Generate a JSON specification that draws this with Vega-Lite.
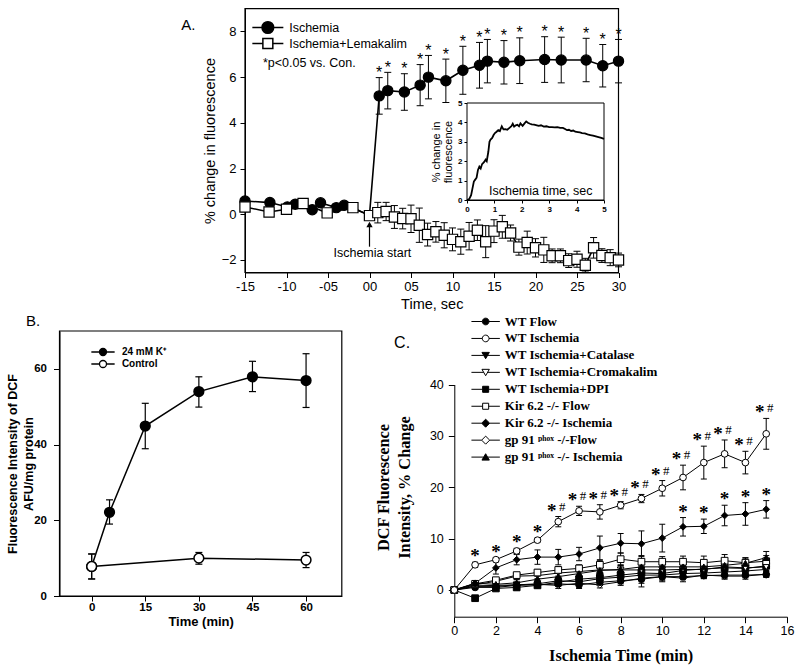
{
"$schema": "https://vega.github.io/schema/vega-lite/v6.json",
"width": 800, "height": 670, "padding": 0, "autosize": {"type": "none"},
"background": "white",
"config": {
  "view": {"stroke": null},
  "axis": {"grid": false, "domainColor": "black", "tickColor": "black", "labelColor": "black", "titleColor": "black", "labelFlush": false, "labelOverlap": false, "labelBound": false, "domainWidth": 1, "tickWidth": 1},
  "legend": {"labelColor": "black", "padding": 0}
},
"datasets": {
"a": [
{"s":"I","t":-15,"v":0.58},{"s":"I","t":-12,"v":0.51},{"s":"I","t":-9.9,"v":0.32},{"s":"I","t":-8.95,"v":0.44},{"s":"I","t":-6.9,"v":0.2},{"s":"I","t":-5.9,"v":0.5},{"s":"I","t":-4,"v":0.29},{"s":"I","t":-3.05,"v":0.39},{"s":"I","t":0,"v":-0.03},
{"s":"I","t":1.17,"v":5.18,"lo":4.38,"hi":5.98,"st":"*"},
{"s":"I","t":2.2,"v":5.41,"lo":4.61,"hi":6.21,"st":"*"},
{"s":"I","t":4.2,"v":5.35,"lo":4.55,"hi":6.15,"st":"*"},
{"s":"I","t":6.1,"v":5.65,"lo":4.75,"hi":6.55,"st":"*"},
{"s":"I","t":7.1,"v":6.0,"lo":5.05,"hi":6.95,"st":"*"},
{"s":"I","t":9.2,"v":5.84,"lo":4.89,"hi":6.79,"st":"*"},
{"s":"I","t":11.25,"v":6.3,"lo":5.25,"hi":7.35,"st":"*"},
{"s":"I","t":13.25,"v":6.52,"lo":5.52,"hi":7.52,"st":"*"},
{"s":"I","t":14.2,"v":6.7,"lo":5.75,"hi":7.65,"st":"*"},
{"s":"I","t":16.2,"v":6.65,"lo":5.7,"hi":7.6,"st":"*"},
{"s":"I","t":18.1,"v":6.72,"lo":5.72,"hi":7.72,"st":"*"},
{"s":"I","t":21.1,"v":6.77,"lo":5.77,"hi":7.77,"st":"*"},
{"s":"I","t":23.1,"v":6.75,"lo":5.75,"hi":7.75,"st":"*"},
{"s":"I","t":26.1,"v":6.75,"lo":5.8,"hi":7.7,"st":"*"},
{"s":"I","t":28.1,"v":6.5,"lo":5.57,"hi":7.43,"st":"*"},
{"s":"I","t":30,"v":6.7,"lo":5.75,"hi":7.65,"st":"*"},
{"s":"L","t":-15,"v":0.32},{"s":"L","t":-12.1,"v":0.1},{"s":"L","t":-10,"v":0.22},{"s":"L","t":-8,"v":0.47},{"s":"L","t":-5.1,"v":0.06},{"s":"L","t":-2,"v":0.29},{"s":"L","t":0,"v":-0.06},
{"s":"L","t":1,"v":0.07,"lo":-0.38,"hi":0.52},
{"s":"L","t":2,"v":0.12,"lo":-0.28,"hi":0.52},
{"s":"L","t":3,"v":-0.12,"lo":-0.62,"hi":0.38},
{"s":"L","t":4,"v":-0.19,"lo":-0.64,"hi":0.26},
{"s":"L","t":5,"v":-0.2,"lo":-0.8,"hi":0.4},
{"s":"L","t":6,"v":-0.48,"lo":-1.23,"hi":0.27},
{"s":"L","t":7,"v":-0.89,"lo":-1.39,"hi":-0.39},
{"s":"L","t":8,"v":-0.77,"lo":-1.22,"hi":-0.32},
{"s":"L","t":9,"v":-0.92,"lo":-1.47,"hi":-0.37},
{"s":"L","t":10,"v":-1.1,"lo":-1.6,"hi":-0.6},
{"s":"L","t":11,"v":-1.2,"lo":-1.75,"hi":-0.65},
{"s":"L","t":12,"v":-0.96,"lo":-1.56,"hi":-0.36},
{"s":"L","t":13,"v":-0.7,"lo":-1.15,"hi":-0.25},
{"s":"L","t":14,"v":-1.2,"lo":-1.9,"hi":-0.5},
{"s":"L","t":15,"v":-0.74,"lo":-1.24,"hi":-0.24},
{"s":"L","t":16,"v":-0.55,"lo":-1.05,"hi":-0.05},
{"s":"L","t":17,"v":-0.82,"lo":-1.17,"hi":-0.47},
{"s":"L","t":18,"v":-1.44,"lo":-1.79,"hi":-1.09},
{"s":"L","t":19,"v":-1.24,"lo":-1.74,"hi":-0.74},
{"s":"L","t":20,"v":-1.47,"lo":-1.87,"hi":-1.07},
{"s":"L","t":21,"v":-1.56,"lo":-2.11,"hi":-1.01},
{"s":"L","t":22,"v":-1.82,"lo":-2.12,"hi":-1.52},
{"s":"L","t":23,"v":-1.82,"lo":-2.12,"hi":-1.52},
{"s":"L","t":24,"v":-2.03,"lo":-2.33,"hi":-1.73},
{"s":"L","t":25,"v":-1.97,"lo":-2.32,"hi":-1.62},
{"s":"L","t":26,"v":-2.23,"lo":-2.53,"hi":-1.93},
{"s":"L","t":27,"v":-1.47,"lo":-1.92,"hi":-1.02},
{"s":"L","t":28,"v":-1.81,"lo":-2.11,"hi":-1.51},
{"s":"L","t":29,"v":-1.9,"lo":-2.25,"hi":-1.55},
{"s":"L","t":30,"v":-2.0,"lo":-2.3,"hi":-1.7}
],
"ain": [
{"t":0,"v":0},{"t":0.08,"v":0.05},{"t":0.15,"v":0.25},{"t":0.2,"v":0.6},{"t":0.25,"v":0.95},{"t":0.3,"v":1.05},{"t":0.35,"v":1.15},{"t":0.4,"v":1.55},{"t":0.45,"v":1.72},{"t":0.5,"v":1.62},{"t":0.55,"v":1.85},{"t":0.62,"v":1.95},{"t":0.68,"v":2.08},{"t":0.72,"v":2.0},{"t":0.78,"v":2.5},{"t":0.82,"v":3.0},{"t":0.86,"v":3.12},{"t":0.92,"v":3.2},{"t":0.97,"v":3.35},{"t":1.02,"v":3.45},{"t":1.08,"v":3.52},{"t":1.14,"v":3.6},{"t":1.2,"v":3.55},{"t":1.27,"v":3.8},{"t":1.33,"v":3.64},{"t":1.4,"v":3.65},{"t":1.47,"v":3.62},{"t":1.55,"v":3.72},{"t":1.62,"v":3.8},{"t":1.67,"v":3.93},{"t":1.72,"v":3.78},{"t":1.78,"v":3.85},{"t":1.84,"v":3.88},{"t":1.9,"v":3.8},{"t":1.95,"v":3.95},{"t":2.03,"v":3.82},{"t":2.1,"v":3.95},{"t":2.16,"v":4.05},{"t":2.22,"v":3.98},{"t":2.3,"v":3.93},{"t":2.36,"v":3.9},{"t":2.45,"v":3.88},{"t":2.55,"v":3.85},{"t":2.62,"v":3.82},{"t":2.7,"v":3.85},{"t":2.8,"v":3.78},{"t":2.9,"v":3.8},{"t":3.0,"v":3.76},{"t":3.1,"v":3.76},{"t":3.2,"v":3.74},{"t":3.3,"v":3.76},{"t":3.4,"v":3.72},{"t":3.5,"v":3.72},{"t":3.58,"v":3.66},{"t":3.65,"v":3.6},{"t":3.72,"v":3.62},{"t":3.8,"v":3.56},{"t":3.88,"v":3.58},{"t":3.95,"v":3.52},{"t":4.05,"v":3.5},{"t":4.12,"v":3.48},{"t":4.2,"v":3.45},{"t":4.3,"v":3.43},{"t":4.4,"v":3.38},{"t":4.5,"v":3.35},{"t":4.6,"v":3.32},{"t":4.7,"v":3.28},{"t":4.8,"v":3.24},{"t":4.9,"v":3.2},{"t":5.0,"v":3.15}
],
"b": [
{"s":"K","t":0,"v":7.8,"lo":4.5,"hi":11.1},
{"s":"K","t":5,"v":22.1,"lo":19,"hi":25.4},
{"s":"K","t":15,"v":44.9,"lo":38.9,"hi":50.9},
{"s":"K","t":30,"v":54,"lo":49.9,"hi":57.9},
{"s":"K","t":45,"v":57.9,"lo":54,"hi":62},
{"s":"K","t":60,"v":56.9,"lo":49.8,"hi":64},
{"s":"C","t":0,"v":7.8,"lo":4.5,"hi":11.1},
{"s":"C","t":30,"v":10,"lo":8.4,"hi":11.5},
{"s":"C","t":60,"v":9.5,"lo":7.5,"hi":11.5}
],
"c": [
{"s":"GF","t":0,"v":0},{"s":"GF","t":1,"v":0.8,"lo":0.4,"hi":1.2},{"s":"GF","t":2,"v":0.9,"lo":0.4,"hi":1.4},{"s":"GF","t":3,"v":1.0,"lo":0.5,"hi":1.5},{"s":"GF","t":4,"v":1.1,"lo":0.6,"hi":1.6},{"s":"GF","t":5,"v":0.9,"lo":0.3,"hi":1.5},{"s":"GF","t":6,"v":1.3,"lo":0.3,"hi":2.3},{"s":"GF","t":7,"v":1.0,"lo":0.4,"hi":1.6},{"s":"GF","t":8,"v":1.6,"lo":0.9,"hi":2.3},{"s":"GF","t":9,"v":2.3,"lo":0.6,"hi":4.0},{"s":"GF","t":10,"v":2.6,"lo":1.6,"hi":3.6},{"s":"GF","t":11,"v":2.3,"lo":1.6,"hi":3.0},{"s":"GF","t":12,"v":2.9,"lo":2.3,"hi":3.5},{"s":"GF","t":13,"v":2.7,"lo":2.1,"hi":3.3},{"s":"GF","t":14,"v":2.7,"lo":2.1,"hi":3.3},{"s":"GF","t":15,"v":3.1,"lo":2.5,"hi":3.7},
{"s":"WF","t":0,"v":0},{"s":"WF","t":1,"v":0.5,"lo":0.1,"hi":0.9},{"s":"WF","t":2,"v":0.5,"lo":0.1,"hi":0.9},{"s":"WF","t":3,"v":0.9,"lo":0.4,"hi":1.4},{"s":"WF","t":4,"v":1.0,"lo":0.5,"hi":1.5},{"s":"WF","t":5,"v":1.2,"lo":0.7,"hi":1.7},{"s":"WF","t":6,"v":1.0,"lo":0.4,"hi":1.6},{"s":"WF","t":7,"v":1.5,"lo":0.9,"hi":2.1},{"s":"WF","t":8,"v":1.8,"lo":1.2,"hi":2.4},{"s":"WF","t":9,"v":2.1,"lo":1.3,"hi":2.9},{"s":"WF","t":10,"v":2.6,"lo":1.8,"hi":3.4},{"s":"WF","t":11,"v":2.6,"lo":2.0,"hi":3.2},{"s":"WF","t":12,"v":2.8,"lo":2.2,"hi":3.4},{"s":"WF","t":13,"v":2.9,"lo":2.3,"hi":3.5},{"s":"WF","t":14,"v":2.9,"lo":2.4,"hi":3.4},{"s":"WF","t":15,"v":3.0,"lo":2.5,"hi":3.5},
{"s":"WC","t":0,"v":0},{"s":"WC","t":1,"v":0.7,"lo":0.3,"hi":1.1},{"s":"WC","t":2,"v":0.7,"lo":0.2,"hi":1.2},{"s":"WC","t":3,"v":1.0,"lo":0.5,"hi":1.5},{"s":"WC","t":4,"v":1.2,"lo":0.7,"hi":1.7},{"s":"WC","t":5,"v":1.8,"lo":1.2,"hi":2.4},{"s":"WC","t":6,"v":1.6,"lo":1.0,"hi":2.2},{"s":"WC","t":7,"v":2.2,"lo":1.5,"hi":2.9},{"s":"WC","t":8,"v":2.5,"lo":1.8,"hi":3.2},{"s":"WC","t":9,"v":2.9,"lo":2.0,"hi":3.8},{"s":"WC","t":10,"v":2.9,"lo":2.1,"hi":3.7},{"s":"WC","t":11,"v":3.2,"lo":2.4,"hi":4.0},{"s":"WC","t":12,"v":3.3,"lo":2.6,"hi":4.0},{"s":"WC","t":13,"v":3.5,"lo":2.8,"hi":4.2},{"s":"WC","t":14,"v":3.7,"lo":3.0,"hi":4.4},{"s":"WC","t":15,"v":4.0,"lo":3.2,"hi":4.8},
{"s":"WD","t":0,"v":0},{"s":"WD","t":1,"v":-1.6,"lo":-2.0,"hi":-1.2},{"s":"WD","t":2,"v":0.3,"lo":-0.1,"hi":0.7},{"s":"WD","t":3,"v":0.5,"lo":0.0,"hi":1.0},{"s":"WD","t":4,"v":0.9,"lo":0.4,"hi":1.4},{"s":"WD","t":5,"v":1.5,"lo":0.9,"hi":2.1},{"s":"WD","t":6,"v":2.1,"lo":1.5,"hi":2.7},{"s":"WD","t":7,"v":2.4,"lo":1.7,"hi":3.1},{"s":"WD","t":8,"v":2.9,"lo":2.2,"hi":3.6},{"s":"WD","t":9,"v":3.3,"lo":2.5,"hi":4.1},{"s":"WD","t":10,"v":3.2,"lo":2.4,"hi":4.0},{"s":"WD","t":11,"v":3.8,"lo":3.0,"hi":4.6},{"s":"WD","t":12,"v":4.1,"lo":3.3,"hi":4.9},{"s":"WD","t":13,"v":4.3,"lo":3.5,"hi":5.1},{"s":"WD","t":14,"v":4.2,"lo":3.3,"hi":5.1},{"s":"WD","t":15,"v":4.7,"lo":3.8,"hi":5.6},
{"s":"WK","t":0,"v":0},{"s":"WK","t":1,"v":1.0,"lo":0.6,"hi":1.4},{"s":"WK","t":2,"v":1.7,"lo":1.2,"hi":2.2},{"s":"WK","t":3,"v":2.7,"lo":2.1,"hi":3.3},{"s":"WK","t":4,"v":2.8,"lo":2.2,"hi":3.4},{"s":"WK","t":5,"v":3.3,"lo":2.7,"hi":3.9},{"s":"WK","t":6,"v":3.6,"lo":2.9,"hi":4.3},{"s":"WK","t":7,"v":3.9,"lo":3.2,"hi":4.6},{"s":"WK","t":8,"v":3.9,"lo":3.1,"hi":4.7},{"s":"WK","t":9,"v":3.9,"lo":3.1,"hi":4.7},{"s":"WK","t":10,"v":3.9,"lo":3.1,"hi":4.7},{"s":"WK","t":11,"v":4.0,"lo":3.2,"hi":4.8},{"s":"WK","t":12,"v":4.0,"lo":3.2,"hi":4.8},{"s":"WK","t":13,"v":4.5,"lo":3.6,"hi":5.4},{"s":"WK","t":14,"v":4.3,"lo":3.4,"hi":5.2},{"s":"WK","t":15,"v":4.5,"lo":3.6,"hi":5.4},
{"s":"KF","t":0,"v":0},{"s":"KF","t":1,"v":1.2,"lo":0.8,"hi":1.6},{"s":"KF","t":2,"v":1.9,"lo":1.4,"hi":2.4},{"s":"KF","t":3,"v":2.9,"lo":2.4,"hi":3.4},{"s":"KF","t":4,"v":3.4,"lo":2.8,"hi":4.0},{"s":"KF","t":5,"v":3.9,"lo":3.3,"hi":4.5},{"s":"KF","t":6,"v":4.2,"lo":3.5,"hi":4.9},{"s":"KF","t":7,"v":4.9,"lo":4.1,"hi":5.7},{"s":"KF","t":8,"v":6.0,"lo":4.8,"hi":7.2},{"s":"KF","t":9,"v":5.5,"lo":4.3,"hi":6.7},{"s":"KF","t":10,"v":5.5,"lo":4.5,"hi":6.5},{"s":"KF","t":11,"v":5.5,"lo":4.4,"hi":6.6},{"s":"KF","t":12,"v":5.3,"lo":4.0,"hi":6.6},{"s":"KF","t":13,"v":5.7,"lo":4.5,"hi":6.9},{"s":"KF","t":14,"v":5.3,"lo":4.3,"hi":6.3},{"s":"KF","t":15,"v":5.6,"lo":4.5,"hi":6.7},
{"s":"GI","t":0,"v":0},{"s":"GI","t":1,"v":1.3,"lo":0.8,"hi":1.8},{"s":"GI","t":2,"v":1.1,"lo":0.6,"hi":1.6},{"s":"GI","t":3,"v":1.4,"lo":0.8,"hi":2.0},{"s":"GI","t":4,"v":2.1,"lo":1.5,"hi":2.7},{"s":"GI","t":5,"v":2.6,"lo":1.9,"hi":3.3},{"s":"GI","t":6,"v":3.2,"lo":2.4,"hi":4.0},{"s":"GI","t":7,"v":3.8,"lo":2.9,"hi":4.7},{"s":"GI","t":8,"v":4.0,"lo":3.1,"hi":4.9},{"s":"GI","t":9,"v":4.5,"lo":3.5,"hi":5.5},{"s":"GI","t":10,"v":4.5,"lo":3.5,"hi":5.5},{"s":"GI","t":11,"v":4.5,"lo":3.5,"hi":5.5},{"s":"GI","t":12,"v":4.5,"lo":3.5,"hi":5.5},{"s":"GI","t":13,"v":4.8,"lo":3.8,"hi":5.8},{"s":"GI","t":14,"v":5.2,"lo":4.2,"hi":6.2},{"s":"GI","t":15,"v":6.3,"lo":5.1,"hi":7.5},
{"s":"KI","t":0,"v":0},{"s":"KI","t":1,"v":1.3,"lo":0.9,"hi":1.7},{"s":"KI","t":2,"v":4.3,"lo":3.1,"hi":5.5},{"s":"KI","t":3,"v":5.9,"lo":4.9,"hi":6.9},{"s":"KI","t":4,"v":6.4,"lo":5.0,"hi":7.8},{"s":"KI","t":5,"v":6.4,"lo":4.9,"hi":7.9},{"s":"KI","t":6,"v":7.0,"lo":5.7,"hi":8.3},{"s":"KI","t":7,"v":8.2,"lo":5.9,"hi":10.5},{"s":"KI","t":8,"v":9.1,"lo":7.2,"hi":11.0},{"s":"KI","t":9,"v":9.0,"lo":6.5,"hi":11.5},{"s":"KI","t":10,"v":10.1,"lo":7.4,"hi":12.8},{"s":"KI","t":11,"v":12.3,"lo":10.5,"hi":14.1,"st":"*"},{"s":"KI","t":12,"v":12.4,"lo":11.0,"hi":13.8,"st":"*"},{"s":"KI","t":13,"v":14.5,"lo":12.5,"hi":16.5,"st":"*"},{"s":"KI","t":14,"v":14.8,"lo":12.6,"hi":17.0,"st":"*"},{"s":"KI","t":15,"v":15.7,"lo":14.0,"hi":17.4,"st":"*"},
{"s":"WI","t":0,"v":0},{"s":"WI","t":1,"v":4.9,"lo":4.4,"hi":5.4,"st":"*"},{"s":"WI","t":2,"v":5.9,"lo":5.5,"hi":6.3,"st":"*"},{"s":"WI","t":3,"v":7.6,"lo":7.1,"hi":8.1,"st":"*"},{"s":"WI","t":4,"v":9.7,"lo":9.3,"hi":10.1,"st":"*"},{"s":"WI","t":5,"v":13.3,"lo":12.3,"hi":14.3,"st":"*#"},{"s":"WI","t":6,"v":15.4,"lo":14.5,"hi":16.3,"st":"*#"},{"s":"WI","t":7,"v":15.2,"lo":13.8,"hi":16.6,"st":"*#"},{"s":"WI","t":8,"v":16.5,"lo":15.8,"hi":17.2,"st":"*#"},{"s":"WI","t":9,"v":17.8,"lo":17.0,"hi":18.6,"st":"*#"},{"s":"WI","t":10,"v":19.8,"lo":18.3,"hi":21.3,"st":"*#"},{"s":"WI","t":11,"v":21.9,"lo":19.5,"hi":24.3,"st":"*#"},{"s":"WI","t":12,"v":24.8,"lo":21.6,"hi":28.0,"st":"*#"},{"s":"WI","t":13,"v":26.5,"lo":23.8,"hi":29.2,"st":"*#"},{"s":"WI","t":14,"v":24.8,"lo":22.6,"hi":27.0,"st":"*#"},{"s":"WI","t":15,"v":30.4,"lo":27.4,"hi":33.4,"st":"*#"}
]
},
"layer": [
{
 "layer": [
  {"data": {"name": "a"}, "mark": {"type": "line", "color": "black", "strokeWidth": 1.6},
   "encoding": {"x": {"field": "t", "type": "quantitative", "scale": {"domain": [-15, 30], "range": [245, 618.5], "nice": false, "zero": false},
                      "axis": {"orient": "bottom", "offset": -397.5, "values": [-15,-10,-5,0,5,10,15,20,25,30], "labelExpr": "(datum.value < 0 ? '-' : '') + (abs(datum.value) < 10 ? '0' : '') + abs(datum.value)", "title": "Time, sec", "tickSize": 5, "labelPadding": 3, "labelFont": "Liberation Sans", "labelFontSize": 13, "titleFont": "Liberation Sans", "titleFontSize": 14.5, "titleFontWeight": "normal", "titlePadding": 4}},
                "y": {"field": "v", "type": "quantitative", "scale": {"domain": [-2.55, 9], "range": [272.5, 8.6], "nice": false, "zero": false},
                      "axis": {"orient": "left", "offset": -245, "values": [-2,0,2,4,6,8], "format": "d", "title": "% change in fluorescence", "tickSize": 5, "labelPadding": 4, "labelFont": "Liberation Sans", "labelFontSize": 13, "titleFont": "Liberation Sans", "titleFontSize": 14.5, "titleFontWeight": "normal", "titlePadding": 4}},
                "detail": {"field": "s"}}},
  {"data": {"values": [{}]}, "mark": {"type": "rect", "filled": false, "stroke": "black", "strokeWidth": 1.2},
   "encoding": {"x": {"datum": -15, "type": "quantitative", "scale": {"domain": [-15, 30], "range": [245, 618.5], "nice": false, "zero": false}}, "x2": {"datum": 30},
                "y": {"datum": -2.55, "type": "quantitative", "scale": {"domain": [-2.55, 9], "range": [272.5, 8.6], "nice": false, "zero": false}}, "y2": {"datum": 9}}},
  {"data": {"name": "a"}, "transform": [{"filter": "isValid(datum.lo)"}], "mark": {"type": "rule", "color": "black", "strokeWidth": 1},
   "encoding": {"x": {"field": "t", "type": "quantitative", "scale": {"domain": [-15, 30], "range": [245, 618.5], "nice": false, "zero": false}},
                "y": {"field": "lo", "type": "quantitative", "scale": {"domain": [-2.55, 9], "range": [272.5, 8.6], "nice": false, "zero": false}}, "y2": {"field": "hi"}}},
  {"data": {"name": "a"}, "transform": [{"filter": "isValid(datum.lo)"}], "mark": {"type": "tick", "orient": "horizontal", "color": "black", "size": 7, "thickness": 1, "opacity": 1},
   "encoding": {"x": {"field": "t", "type": "quantitative", "scale": {"domain": [-15, 30], "range": [245, 618.5], "nice": false, "zero": false}},
                "y": {"field": "lo", "type": "quantitative", "scale": {"domain": [-2.55, 9], "range": [272.5, 8.6], "nice": false, "zero": false}}}},
  {"data": {"name": "a"}, "transform": [{"filter": "isValid(datum.lo)"}], "mark": {"type": "tick", "orient": "horizontal", "color": "black", "size": 7, "thickness": 1, "opacity": 1},
   "encoding": {"x": {"field": "t", "type": "quantitative", "scale": {"domain": [-15, 30], "range": [245, 618.5], "nice": false, "zero": false}},
                "y": {"field": "hi", "type": "quantitative", "scale": {"domain": [-2.55, 9], "range": [272.5, 8.6], "nice": false, "zero": false}}}},
  {"data": {"name": "a"}, "transform": [{"filter": "!(datum.s === 'I' && datum.t === 0)"}], "mark": {"type": "point", "filled": true, "stroke": "black", "strokeWidth": 1.2, "opacity": 1, "size": 105},
   "encoding": {"x": {"field": "t", "type": "quantitative", "scale": {"domain": [-15, 30], "range": [245, 618.5], "nice": false, "zero": false}},
                "y": {"field": "v", "type": "quantitative", "scale": {"domain": [-2.55, 9], "range": [272.5, 8.6], "nice": false, "zero": false}},
                "shape": {"field": "s", "type": "nominal", "scale": {"domain": ["I", "L"], "range": ["circle", "square"]}, "legend": null},
                "fill": {"field": "s", "type": "nominal", "scale": {"domain": ["I", "L"], "range": ["black", "white"]}, "legend": null}}},
  {"data": {"name": "a"}, "transform": [{"filter": "datum.st"}], "mark": {"type": "text", "font": "Liberation Sans", "fontSize": 16, "baseline": "middle", "dy": -4.5, "color": "black"},
   "encoding": {"x": {"field": "t", "type": "quantitative", "scale": {"domain": [-15, 30], "range": [245, 618.5], "nice": false, "zero": false}},
                "y": {"field": "hi", "type": "quantitative", "scale": {"domain": [-2.55, 9], "range": [272.5, 8.6], "nice": false, "zero": false}},
                "text": {"field": "st"}}},
  {"data": {"values": [{"x": 0, "y": -1.42, "y2": -0.5}]}, "mark": {"type": "rule", "color": "black", "strokeWidth": 1.2},
   "encoding": {"x": {"field": "x", "type": "quantitative", "scale": {"domain": [-15, 30], "range": [245, 618.5], "nice": false, "zero": false}},
                "y": {"field": "y", "type": "quantitative", "scale": {"domain": [-2.55, 9], "range": [272.5, 8.6], "nice": false, "zero": false}}, "y2": {"field": "y2"}}},
  {"data": {"values": [{"x": 0, "y": -0.45}]}, "mark": {"type": "point", "shape": "triangle-up", "filled": true, "color": "black", "size": 40, "opacity": 1},
   "encoding": {"x": {"field": "x", "type": "quantitative", "scale": {"domain": [-15, 30], "range": [245, 618.5], "nice": false, "zero": false}},
                "y": {"field": "y", "type": "quantitative", "scale": {"domain": [-2.55, 9], "range": [272.5, 8.6], "nice": false, "zero": false}}}},
  {"data": {"values": [{"x": -4.34, "y": -1.68, "label": "Ischemia start"}, {"x": -12.84, "y": 6.61, "label": "*p<0.05 vs. Con."}]},
   "mark": {"type": "text", "align": "left", "baseline": "middle", "font": "Liberation Sans", "fontSize": 12.5, "color": "black"},
   "encoding": {"x": {"field": "x", "type": "quantitative", "scale": {"domain": [-15, 30], "range": [245, 618.5], "nice": false, "zero": false}},
                "y": {"field": "y", "type": "quantitative", "scale": {"domain": [-2.55, 9], "range": [272.5, 8.6], "nice": false, "zero": false}},
                "text": {"field": "label"}}},
  {"data": {"values": [{"x": -21.84, "y": 8.28, "label": "A."}]},
   "mark": {"type": "text", "align": "center", "baseline": "middle", "font": "Liberation Sans", "fontSize": 15, "color": "black"},
   "encoding": {"x": {"field": "x", "type": "quantitative", "scale": {"domain": [-15, 30], "range": [245, 618.5], "nice": false, "zero": false}},
                "y": {"field": "y", "type": "quantitative", "scale": {"domain": [-2.55, 9], "range": [272.5, 8.6], "nice": false, "zero": false}},
                "text": {"field": "label"}}}
 ]
},
{
 "data": {"values": [{"s": "Ischemia"}, {"s": "Ischemia+Lemakalim"}]}, "transform": [{"filter": "false"}],
 "mark": {"type": "point", "filled": true, "stroke": "black", "strokeWidth": 1.5, "opacity": 1},
 "encoding": {
  "color": {"field": "s", "type": "nominal", "scale": {"domain": ["Ischemia", "Ischemia+Lemakalim"], "range": ["black", "white"]},
            "legend": {"title": null, "orient": "none", "legendX": 260.85, "legendY": 20.5, "symbolSize": 137, "symbolStrokeWidth": 1.5, "labelFont": "Liberation Sans", "labelFontSize": 12.5, "labelOffset": 14.35, "rowPadding": -2.5, "padding": 0}},
  "shape": {"field": "s", "type": "nominal", "scale": {"domain": ["Ischemia", "Ischemia+Lemakalim"], "range": ["M-2.65,0H-1M1,0H2.65M1,0A1,1,0,1,1,-1,0A1,1,0,1,1,1,0Z", "M-2.65,0H-0.85M0.85,0H2.65M-0.85,-0.85H0.85V0.85H-0.85Z"]},
            "legend": {"title": null, "orient": "none", "legendX": 260.85, "legendY": 20.5, "symbolSize": 137, "symbolStrokeWidth": 1.5, "labelFont": "Liberation Sans", "labelFontSize": 12.5, "labelOffset": 14.35, "rowPadding": -2.5, "padding": 0}}
 }
},
{
 "layer": [
  {"data": {"values": [{}]}, "mark": {"type": "rect", "fill": "white", "stroke": "black", "strokeWidth": 1},
   "encoding": {"x": {"datum": 0, "type": "quantitative", "scale": {"domain": [0, 5], "range": [467, 604], "nice": false, "zero": false}}, "x2": {"datum": 5},
                "y": {"datum": 0, "type": "quantitative", "scale": {"domain": [0, 5], "range": [200, 103], "nice": false, "zero": false}}, "y2": {"datum": 5}}},
  {"data": {"name": "ain"}, "mark": {"type": "line", "color": "black", "strokeWidth": 1.8},
   "encoding": {"x": {"field": "t", "type": "quantitative", "scale": {"domain": [0, 5], "range": [467, 604], "nice": false, "zero": false},
                      "axis": {"orient": "bottom", "offset": -470, "values": [0,1,2,3,4,5], "format": "d", "title": null, "tickSize": 3, "labelPadding": 2, "labelFont": "Liberation Sans", "labelFontSize": 8, "labelFontWeight": "bold"}},
                "y": {"field": "v", "type": "quantitative", "scale": {"domain": [0, 5], "range": [200, 103], "nice": false, "zero": false},
                      "axis": {"orient": "left", "offset": -467, "values": [0,1,2,3,4,5], "format": "d", "title": ["% change in", "fluorescence"], "tickSize": 3, "labelPadding": 2, "labelFont": "Liberation Sans", "labelFontSize": 8, "labelFontWeight": "bold", "titleFont": "Liberation Sans", "titleFontSize": 11, "titleFontWeight": "normal", "titleLineHeight": 12.5, "titlePadding": 4}}}},
  {"data": {"values": [{"x": 2.69, "y": 0.46, "label": "Ischemia time, sec"}]},
   "mark": {"type": "text", "align": "center", "baseline": "middle", "font": "Liberation Sans", "fontSize": 12.5, "color": "black"},
   "encoding": {"x": {"field": "x", "type": "quantitative", "scale": {"domain": [0, 5], "range": [467, 604], "nice": false, "zero": false}},
                "y": {"field": "y", "type": "quantitative", "scale": {"domain": [0, 5], "range": [200, 103], "nice": false, "zero": false}},
                "text": {"field": "label"}}}
 ]
},
{
 "layer": [
  {"data": {"name": "b"}, "mark": {"type": "line", "color": "black", "strokeWidth": 1.5},
   "encoding": {"x": {"field": "t", "type": "quantitative", "scale": {"domain": [-9, 70], "range": [59.5, 341.8], "nice": false, "zero": false},
                      "axis": {"orient": "bottom", "offset": -74, "values": [0,15,30,45,60], "title": "Time (min)", "tickSize": 5, "labelPadding": 0, "labelFont": "Liberation Sans", "labelFontSize": 11.5, "labelFontWeight": "bold", "titleFont": "Liberation Sans", "titleFontSize": 13, "titleFontWeight": "bold", "titlePadding": 3}},
                "y": {"field": "v", "type": "quantitative", "scale": {"domain": [0, 70], "range": [596, 331], "nice": false, "zero": false},
                      "axis": {"orient": "left", "offset": -59.5, "values": [0,20,40,60], "title": ["Fluorescence Intensity of DCF", "AFU/mg protein"], "tickSize": 6, "labelPadding": 7, "labelFont": "Liberation Sans", "labelFontSize": 11.5, "labelFontWeight": "bold", "titleFont": "Liberation Sans", "titleFontSize": 12.5, "titleFontWeight": "bold", "titleLineHeight": 16, "titlePadding": -2}},
                "detail": {"field": "s"}}},
  {"data": {"values": [{}]}, "mark": {"type": "rect", "filled": false, "stroke": "black", "strokeWidth": 1.2},
   "encoding": {"x": {"datum": -9, "type": "quantitative", "scale": {"domain": [-9, 70], "range": [59.5, 341.8], "nice": false, "zero": false}}, "x2": {"datum": 70},
                "y": {"datum": 0, "type": "quantitative", "scale": {"domain": [0, 70], "range": [596, 331], "nice": false, "zero": false}}, "y2": {"datum": 70}}},
  {"data": {"name": "b"}, "mark": {"type": "rule", "color": "black", "strokeWidth": 1.2},
   "encoding": {"x": {"field": "t", "type": "quantitative", "scale": {"domain": [-9, 70], "range": [59.5, 341.8], "nice": false, "zero": false}},
                "y": {"field": "lo", "type": "quantitative", "scale": {"domain": [0, 70], "range": [596, 331], "nice": false, "zero": false}}, "y2": {"field": "hi"}}},
  {"data": {"name": "b"}, "mark": {"type": "tick", "orient": "horizontal", "color": "black", "size": 7, "thickness": 1.2, "opacity": 1},
   "encoding": {"x": {"field": "t", "type": "quantitative", "scale": {"domain": [-9, 70], "range": [59.5, 341.8], "nice": false, "zero": false}},
                "y": {"field": "lo", "type": "quantitative", "scale": {"domain": [0, 70], "range": [596, 331], "nice": false, "zero": false}}}},
  {"data": {"name": "b"}, "mark": {"type": "tick", "orient": "horizontal", "color": "black", "size": 7, "thickness": 1.2, "opacity": 1},
   "encoding": {"x": {"field": "t", "type": "quantitative", "scale": {"domain": [-9, 70], "range": [59.5, 341.8], "nice": false, "zero": false}},
                "y": {"field": "hi", "type": "quantitative", "scale": {"domain": [0, 70], "range": [596, 331], "nice": false, "zero": false}}}},
  {"data": {"name": "b"}, "mark": {"type": "point", "filled": true, "shape": "circle", "stroke": "black", "strokeWidth": 1.5, "opacity": 1, "size": 95},
   "encoding": {"x": {"field": "t", "type": "quantitative", "scale": {"domain": [-9, 70], "range": [59.5, 341.8], "nice": false, "zero": false}},
                "y": {"field": "v", "type": "quantitative", "scale": {"domain": [0, 70], "range": [596, 331], "nice": false, "zero": false}},
                "fill": {"field": "s", "type": "nominal", "scale": {"domain": ["K", "C"], "range": ["black", "white"]}, "legend": null}}},
  {"data": {"values": [{"x": -16.4, "y": 72.7, "label": "B."}]},
   "mark": {"type": "text", "align": "center", "baseline": "middle", "font": "Liberation Sans", "fontSize": 15, "color": "black"},
   "encoding": {"x": {"field": "x", "type": "quantitative", "scale": {"domain": [-9, 70], "range": [59.5, 341.8], "nice": false, "zero": false}},
                "y": {"field": "y", "type": "quantitative", "scale": {"domain": [0, 70], "range": [596, 331], "nice": false, "zero": false}},
                "text": {"field": "label"}}}
 ]
},
{
 "data": {"values": [{"s": "24 mM K⁺"}, {"s": "Control"}]}, "transform": [{"filter": "false"}],
 "mark": {"type": "point", "filled": true, "stroke": "black", "strokeWidth": 1.3, "opacity": 1},
 "encoding": {
  "color": {"field": "s", "type": "nominal", "scale": {"domain": ["24 mM K⁺", "Control"], "range": ["black", "white"]},
            "legend": {"title": null, "orient": "none", "legendX": 98, "legendY": 347, "symbolSize": 49, "symbolStrokeWidth": 1.3, "labelFont": "Liberation Sans", "labelFontSize": 10, "labelFontWeight": "bold", "labelOffset": 13.9, "rowPadding": -2.7, "padding": 0}},
  "shape": {"field": "s", "type": "nominal", "scale": {"domain": ["24 mM K⁺", "Control"], "range": ["M-3.33,0H-1M1,0H3.33M1,0A1,1,0,1,1,-1,0A1,1,0,1,1,1,0Z", "M-3.33,0H-1M1,0H3.33M1,0A1,1,0,1,1,-1,0A1,1,0,1,1,1,0Z"]},
            "legend": {"title": null, "orient": "none", "legendX": 98, "legendY": 347, "symbolSize": 49, "symbolStrokeWidth": 1.3, "labelFont": "Liberation Sans", "labelFontSize": 10, "labelFontWeight": "bold", "labelOffset": 13.9, "rowPadding": -2.7, "padding": 0}}
 }
},
{
 "layer": [
  {"data": {"name": "c"}, "mark": {"type": "line", "color": "black", "strokeWidth": 1},
   "encoding": {"x": {"field": "t", "type": "quantitative", "scale": {"domain": [0, 16], "range": [454.3, 787], "nice": false, "zero": false},
                      "axis": {"orient": "bottom", "offset": -53.3, "values": [0,2,4,6,8,10,12,14,16], "title": "Ischemia Time (min)", "tickSize": 6, "labelPadding": 2, "labelFont": "Liberation Sans", "labelFontSize": 12.5, "titleFont": "Liberation Serif", "titleFontSize": 16.3, "titleFontWeight": "bold", "titlePadding": 10}},
                "y": {"field": "v", "type": "quantitative", "scale": {"domain": [-5.2, 40], "range": [616.7, 384.5], "nice": false, "zero": false},
                      "axis": {"orient": "left", "offset": -454.3, "values": [0,10,20,30,40], "title": ["DCF Fluorescence", "Intensity, % Change"], "tickSize": 6, "labelPadding": 5, "labelFont": "Liberation Sans", "labelFontSize": 12.5, "titleFont": "Liberation Serif", "titleFontSize": 16.3, "titleFontWeight": "bold", "titleLineHeight": 21.6, "titleX": -62.9, "titleY": 487}},
                "detail": {"field": "s"}}},
  {"data": {"name": "c"}, "transform": [{"filter": "isValid(datum.lo)"}], "mark": {"type": "rule", "color": "black", "strokeWidth": 1},
   "encoding": {"x": {"field": "t", "type": "quantitative", "scale": {"domain": [0, 16], "range": [454.3, 787], "nice": false, "zero": false}},
                "y": {"field": "lo", "type": "quantitative", "scale": {"domain": [-5.2, 40], "range": [616.7, 384.5], "nice": false, "zero": false}}, "y2": {"field": "hi"}}},
  {"data": {"name": "c"}, "transform": [{"filter": "isValid(datum.lo)"}], "mark": {"type": "tick", "orient": "horizontal", "color": "black", "size": 6, "thickness": 1, "opacity": 1},
   "encoding": {"x": {"field": "t", "type": "quantitative", "scale": {"domain": [0, 16], "range": [454.3, 787], "nice": false, "zero": false}},
                "y": {"field": "lo", "type": "quantitative", "scale": {"domain": [-5.2, 40], "range": [616.7, 384.5], "nice": false, "zero": false}}}},
  {"data": {"name": "c"}, "transform": [{"filter": "isValid(datum.lo)"}], "mark": {"type": "tick", "orient": "horizontal", "color": "black", "size": 6, "thickness": 1, "opacity": 1},
   "encoding": {"x": {"field": "t", "type": "quantitative", "scale": {"domain": [0, 16], "range": [454.3, 787], "nice": false, "zero": false}},
                "y": {"field": "hi", "type": "quantitative", "scale": {"domain": [-5.2, 40], "range": [616.7, 384.5], "nice": false, "zero": false}}}},
  {"data": {"name": "c"}, "mark": {"type": "point", "filled": true, "stroke": "black", "strokeWidth": 1, "opacity": 1, "size": 45},
   "encoding": {"x": {"field": "t", "type": "quantitative", "scale": {"domain": [0, 16], "range": [454.3, 787], "nice": false, "zero": false}},
                "y": {"field": "v", "type": "quantitative", "scale": {"domain": [-5.2, 40], "range": [616.7, 384.5], "nice": false, "zero": false}},
                "shape": {"field": "s", "type": "nominal", "scale": {"domain": ["WF","WI","WC","WK","WD","KF","KI","GF","GI"], "range": ["circle","circle","triangle-down","triangle-down","square","square","diamond","diamond","triangle-up"]}, "legend": null},
                "fill": {"field": "s", "type": "nominal", "scale": {"domain": ["WF","WI","WC","WK","WD","KF","KI","GF","GI"], "range": ["black","white","black","white","black","white","black","white","black"]}, "legend": null}}},
  {"data": {"name": "c"}, "transform": [{"filter": "datum.st === '*'"}], "mark": {"type": "text", "text": "*", "font": "Liberation Serif", "fontSize": 19, "fontWeight": "bold", "baseline": "middle", "dy": -6, "color": "black"},
   "encoding": {"x": {"field": "t", "type": "quantitative", "scale": {"domain": [0, 16], "range": [454.3, 787], "nice": false, "zero": false}},
                "y": {"field": "hi", "type": "quantitative", "scale": {"domain": [-5.2, 40], "range": [616.7, 384.5], "nice": false, "zero": false}}}},
  {"data": {"name": "c"}, "transform": [{"filter": "datum.st === '*#'"}], "mark": {"type": "text", "text": "*", "font": "Liberation Serif", "fontSize": 19, "fontWeight": "bold", "baseline": "middle", "dy": -6, "dx": -6.5, "color": "black"},
   "encoding": {"x": {"field": "t", "type": "quantitative", "scale": {"domain": [0, 16], "range": [454.3, 787], "nice": false, "zero": false}},
                "y": {"field": "hi", "type": "quantitative", "scale": {"domain": [-5.2, 40], "range": [616.7, 384.5], "nice": false, "zero": false}}}},
  {"data": {"name": "c"}, "transform": [{"filter": "datum.st === '*#'"}], "mark": {"type": "text", "text": "#", "font": "Liberation Serif", "fontSize": 13, "baseline": "middle", "dy": -10, "dx": 4, "color": "black"},
   "encoding": {"x": {"field": "t", "type": "quantitative", "scale": {"domain": [0, 16], "range": [454.3, 787], "nice": false, "zero": false}},
                "y": {"field": "hi", "type": "quantitative", "scale": {"domain": [-5.2, 40], "range": [616.7, 384.5], "nice": false, "zero": false}}}},
  {"data": {"values": [{"x": -2.51, "y": 48.08, "label": "C."}]},
   "mark": {"type": "text", "align": "center", "baseline": "middle", "font": "Liberation Sans", "fontSize": 16, "color": "black"},
   "encoding": {"x": {"field": "x", "type": "quantitative", "scale": {"domain": [0, 16], "range": [454.3, 787], "nice": false, "zero": false}},
                "y": {"field": "y", "type": "quantitative", "scale": {"domain": [-5.2, 40], "range": [616.7, 384.5], "nice": false, "zero": false}},
                "text": {"field": "label"}}}
 ]
},
{
 "data": {"values": [{"s": "WT Flow"}]}, "transform": [{"filter": "false"}],
 "mark": {"type": "point", "filled": true, "stroke": "black", "strokeWidth": 1, "opacity": 1},
 "encoding": {
  "color": {"field": "s", "type": "nominal", "scale": {"domain": ["WT Flow", "WT Ischemia", "WT Ischemia+Catalase", "WT Ischemia+Cromakalim", "WT Ischemia+DPI", "Kir 6.2 -/- Flow", "Kir 6.2 -/- Ischemia", "gp 91 ᵖʰᵒˣ -/-Flow", "gp 91 ᵖʰᵒˣ -/- Ischemia"], "range": ["black","white","black","white","black","white","black","white","black"]},
            "legend": {"title": null, "orient": "none", "legendX": 479.15, "legendY": 315, "symbolSize": 45, "symbolStrokeWidth": 1, "labelFont": "Liberation Serif", "labelFontSize": 13, "labelFontWeight": "bold", "labelOffset": 12.65, "rowPadding": 2.95, "padding": 0, "labelLimit": 400}},
  "shape": {"field": "s", "type": "nominal", "scale": {"domain": ["WT Flow", "WT Ischemia", "WT Ischemia+Catalase", "WT Ischemia+Cromakalim", "WT Ischemia+DPI", "Kir 6.2 -/- Flow", "Kir 6.2 -/- Ischemia", "gp 91 ᵖʰᵒˣ -/-Flow", "gp 91 ᵖʰᵒˣ -/- Ischemia"],
            "range": ["M-4.24,0H-1M1,0H4.24M1,0A1,1,0,1,1,-1,0A1,1,0,1,1,1,0Z", "M-4.24,0H-1M1,0H4.24M1,0A1,1,0,1,1,-1,0A1,1,0,1,1,1,0Z", "M-4.24,0H-0.58M0.58,0H4.24M-1.1,-0.9H1.1L0,1Z", "M-4.24,0H-0.58M0.58,0H4.24M-1.1,-0.9H1.1L0,1Z", "M-4.24,0H-0.9M0.9,0H4.24M-0.9,-0.9H0.9V0.9H-0.9Z", "M-4.24,0H-0.9M0.9,0H4.24M-0.9,-0.9H0.9V0.9H-0.9Z", "M-4.24,0H-1.2M1.2,0H4.24M0,-1.2L1.2,0L0,1.2L-1.2,0Z", "M-4.24,0H-1.2M1.2,0H4.24M0,-1.2L1.2,0L0,1.2L-1.2,0Z", "M-4.24,0H-0.58M0.58,0H4.24M-1.1,0.9H1.1L0,-1Z"]},
            "legend": {"title": null, "orient": "none", "legendX": 479.15, "legendY": 315, "symbolSize": 45, "symbolStrokeWidth": 1, "labelFont": "Liberation Serif", "labelFontSize": 13, "labelFontWeight": "bold", "labelOffset": 12.65, "rowPadding": 2.95, "padding": 0, "labelLimit": 400}}
 }
}
],
"resolve": {"scale": {"x": "independent", "y": "independent", "color": "independent", "shape": "independent", "fill": "independent"}}
}
